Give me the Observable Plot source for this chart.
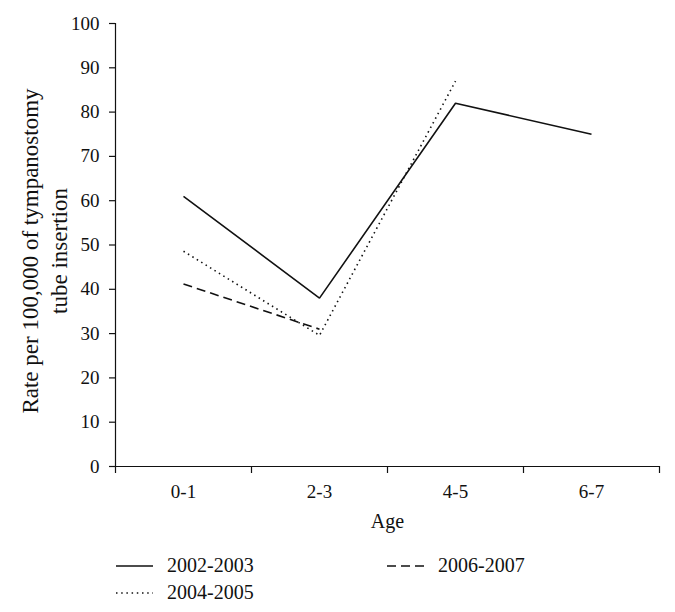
<!DOCTYPE html>
<html>
<head>
<meta charset="utf-8">
<script src="https://cdn.jsdelivr.net/npm/d3@7"></script>
<script src="https://cdn.jsdelivr.net/npm/@observablehq/plot@0.6"></script>
<style>
  body { margin: 0; background: #fff; font-family: "Liberation Serif", "DejaVu Serif", serif; color: #111; }
  #chart svg { display: block; }
  .legend { display: grid; grid-auto-flow: column; grid-template-rows: 27px 27px; grid-template-columns: 271px 240px;
            padding-left: 116px; margin-top: 7px; font-size: 20px; }
  .legend .item { display: flex; align-items: center; }
  .legend svg { margin-right: 14px; }
</style>
</head>
<body>
<div id="chart"></div>
<script>
// Data
const ages = ["0-1", "2-3", "4-5", "6-7"];
const series = ["2002-2003", "2004-2005", "2006-2007"];
const rate2002 = [61, 38, 82, 75];
const rate2004 = [48.6, 29.6, 87, null];
const rate2006 = [41.2, 31, null, null];
const yTicks = [0, 10, 20, 30, 40, 50, 60, 70, 80, 90, 100];

const styles = {
  "2002-2003": {dash: null, width: 1.6},
  "2004-2005": {dash: "1.5,3.7", width: 1.6},
  "2006-2007": {dash: "9,5", width: 1.6}
};
const values = {"2002-2003": rate2002, "2004-2005": rate2004, "2006-2007": rate2006};

const rows = series.flatMap(s => values[s].map((v, i) => ({series: s, age: i, rate: v})).filter(d => d.rate != null));

// category index positions; bands are [i-0.5, i+0.5]
const bounds = d3.range(ages.length + 1).map(k => k - 0.5);
const centers = ages.map((a, i) => i);

const ink = "#111";
const font = "'Liberation Serif', 'DejaVu Serif', serif";

const plot = Plot.plot({
  width: 675,
  height: 545,
  marginLeft: 115,
  marginRight: 16,
  marginTop: 23,
  marginBottom: 79,
  style: {fontFamily: font, fontSize: "19px", color: ink, background: "#fff"},
  x: {type: "linear", domain: [-0.5, ages.length - 0.5], axis: null},
  y: {domain: [0, 100], axis: null},
  marks: [
    Plot.ruleX([-0.5], {stroke: ink, strokeWidth: 1.2}),
    Plot.ruleY([0], {stroke: ink, strokeWidth: 1.2}),
    Plot.axisY({ticks: yTicks, tickSize: 6, tickPadding: 10, label: null, stroke: ink, strokeWidth: 1.2, fill: ink, fontSize: 19}),
    Plot.axisX({ticks: bounds, tickSize: 7, tickFormat: () => "", label: null, stroke: ink, strokeWidth: 1.2}),
    Plot.axisX({ticks: centers, tickSize: 0, tickPadding: 18, tickFormat: d => ages[d], label: null, fill: ink, fontSize: 19}),
    Plot.text(["Age"], {frameAnchor: "bottom", dy: 55, lineAnchor: "middle", fill: ink, fontSize: 20}),
    Plot.text(["Rate per 100,000 of tympanostomy\ntube insertion"], {frameAnchor: "left", textAnchor: "middle", rotate: -90, dx: -72, dy: 6, lineAnchor: "middle", lineHeight: 1.22, fill: ink, fontSize: 23}),
    ...series.map(s => Plot.line(rows.filter(d => d.series === s), {
      x: "age", y: "rate", stroke: ink, strokeWidth: styles[s].width,
      strokeDasharray: styles[s].dash, strokeLinecap: "butt", strokeLinejoin: "miter"
    }))
  ]
});
document.getElementById("chart").appendChild(plot);

// Legend
const legend = document.createElement("div");
legend.className = "legend";
for (const s of series) {
  const item = document.createElement("div");
  item.className = "item";
  const sw = d3.create("svg").attr("width", 37).attr("height", 10);
  sw.append("line").attr("x1", 0).attr("x2", 37).attr("y1", 5).attr("y2", 5)
    .attr("stroke", ink).attr("stroke-width", styles[s].width)
    .attr("stroke-dasharray", styles[s].dash);
  item.appendChild(sw.node());
  const t = document.createElement("span");
  t.textContent = s;
  item.appendChild(t);
  legend.appendChild(item);
}
document.getElementById("chart").appendChild(legend);
</script>
</body>
</html>
